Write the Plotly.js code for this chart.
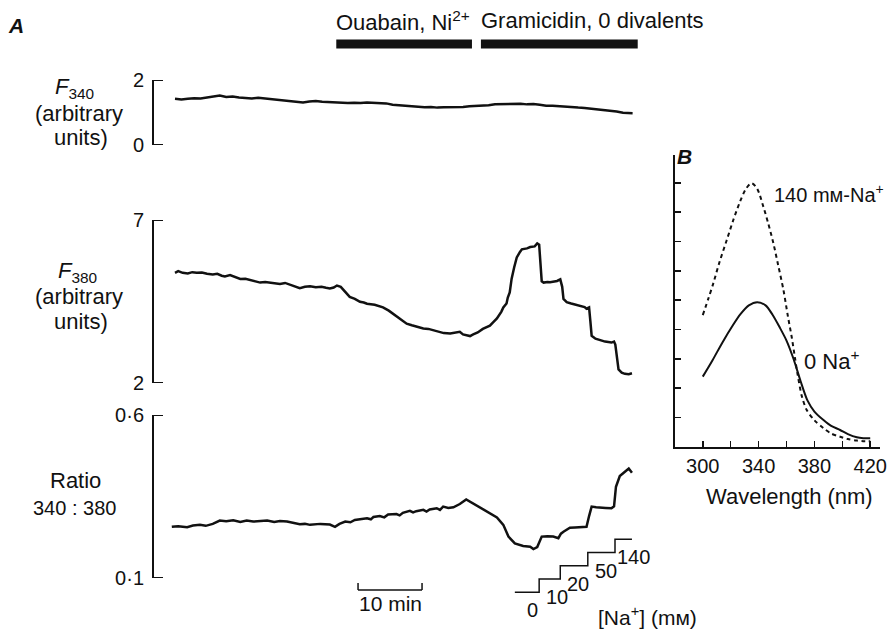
<!DOCTYPE html>
<html>
<head>
<meta charset="utf-8">
<script src="https://cdn.plot.ly/plotly-3.0.1.min.js"></script>
<style>html,body{margin:0;padding:0;background:#fff;}#chart{width:892px;height:629px;}</style>
</head>
<body>
<div id="chart"></div>
<script>
// ---------- Panel A: time course (minutes) ----------
const timeF340 = [0,1,2,3,4,5,6,7,8,9,10,11,12,13,14,15,16,17,18,19,20,21,22,23,24,25,26,27,28,29,30,31,32,33,34,35,36,37,38,39,40,41,42,43,44,45,46,47,48,49,50,51,52,53,54,55,56,57,58,59,60,61,62,63,64,65,66,67,68,69,70,71,71.5];
const f340 = [1.42,1.40,1.42,1.44,1.43,1.46,1.47,1.52,1.48,1.49,1.46,1.45,1.43,1.45,1.43,1.42,1.41,1.38,1.36,1.33,1.31,1.34,1.35,1.33,1.32,1.30,1.31,1.29,1.30,1.29,1.31,1.30,1.31,1.28,1.24,1.22,1.21,1.19,1.18,1.16,1.17,1.15,1.16,1.16,1.18,1.17,1.19,1.20,1.19,1.22,1.25,1.26,1.25,1.26,1.27,1.25,1.26,1.24,1.21,1.21,1.19,1.18,1.16,1.15,1.14,1.12,1.10,1.08,1.06,1.03,0.99,0.99,0.98];

const timeF380 = [0,0.5,1.2,2,2.7,3.4,4.2,5,5.9,6.6,7.3,7.8,8.6,9.4,10.2,11,11.8,12.6,13.3,14.1,15,15.8,16.4,17.2,18,18.8,19.5,20.3,21.1,22,22.9,23.6,24.2,24.8,25.3,25.9,26.6,27.3,28.1,28.9,29.5,30,31.2,32.5,33.4,34.3,35.2,36.2,37,37.8,38.8,39.6,40.3,41.2,42,43,43.8,44.5,45,45.6,46.1,46.6,47.3,48.1,49.2,49.7,50.3,51,51.3,51.8,52,52.3,52.6,53,53.4,53.9,54.2,55,55.5,56.2,56.6,56.9,57.1,57.3,57.6,58.2,58.6,59.2,59.7,60.2,60.5,60.7,61.2,61.9,62.6,63.3,64,64.3,64.7,64.9,65.1,65.7,66.4,67.2,68.2,68.6,68.8,69,69.3,69.8,70.3,70.9,71.4];
const f380 = [5.38,5.43,5.38,5.36,5.40,5.38,5.39,5.35,5.33,5.35,5.29,5.27,5.31,5.24,5.19,5.20,5.15,5.12,5.08,5.10,5.07,5.05,5.04,5.07,5.02,4.97,4.91,4.95,4.97,4.94,4.95,4.92,4.90,4.93,4.99,4.95,4.81,4.64,4.58,4.49,4.47,4.43,4.40,4.32,4.22,4.09,3.94,3.82,3.77,3.72,3.67,3.66,3.62,3.57,3.53,3.52,3.54,3.57,3.49,3.47,3.44,3.49,3.55,3.66,3.76,3.86,3.98,4.19,4.32,4.44,4.62,4.78,5.20,5.55,5.85,6.02,6.10,6.13,6.17,6.19,6.28,6.24,5.70,5.12,5.08,5.10,5.09,5.12,5.13,5.18,4.95,4.58,4.48,4.44,4.40,4.36,4.33,4.28,4.32,3.90,3.45,3.36,3.31,3.27,3.24,3.27,3.18,2.80,2.42,2.32,2.28,2.27,2.30];

const timeRatio = [-0.5,0.5,1.9,2.8,3.9,4.8,5.9,7,8,9.1,10.2,11.2,12.2,13.3,14.4,15.5,16.4,17.5,18.5,19.5,20.3,21.1,22.7,24.2,25,25.7,26.6,27.4,28.1,29,30,30.6,31,32,32.7,33.3,34.6,35.1,35.6,36.7,37.2,37.7,38.8,39.3,39.8,40.9,41.4,41.9,42.7,43.5,44.5,45.5,46.6,47.9,49.2,50.3,51.3,52.1,53.1,54.4,55.5,56,56.6,57,57.3,58.2,59.1,59.9,60.3,60.7,61.7,62.5,63.3,64.3,64.7,65.1,65.8,66.4,67.3,68.2,68.6,68.9,69.5,70.3,70.9,71.4];
const ratio = [0.257,0.259,0.256,0.261,0.263,0.260,0.266,0.276,0.274,0.277,0.272,0.276,0.273,0.275,0.276,0.272,0.275,0.273,0.270,0.265,0.266,0.263,0.266,0.264,0.257,0.266,0.273,0.271,0.278,0.280,0.283,0.280,0.287,0.290,0.286,0.295,0.296,0.292,0.300,0.306,0.301,0.305,0.309,0.304,0.310,0.314,0.309,0.319,0.315,0.317,0.327,0.341,0.329,0.314,0.298,0.286,0.263,0.227,0.206,0.198,0.196,0.189,0.195,0.215,0.227,0.228,0.227,0.222,0.236,0.242,0.254,0.255,0.255,0.257,0.290,0.319,0.317,0.317,0.315,0.314,0.320,0.380,0.413,0.426,0.436,0.423];

// [Na+] steps
const naTimes = [53.1,56.9,60.2,64.5,68.75,71.4];
const naLevel = [0,1,2,3,4,4];
const naLabels = ['0','10','20','50','140'];

// Treatment periods (minutes)
const treatLabels = ['Ouabain, Ni<sup>2+</sup>','Gramicidin, 0 divalents'];
const treatStart = [25.2,47.8];
const treatEnd = [46.4,72.3];

// 10 min scale bar
const scaleStart = 28.6;
const scaleLen = 10;

// Axis ticks of panel A
const f340Ticks = [0,2];
const f380Ticks = [2,7];
const ratioTicks = [0.1,0.6];
const ratioTickText = ['0\u00B71','0\u00B76'];

// ---------- Panel B: excitation spectra ----------
const wlDash = [300,304,307.6,312,317.2,322,326.7,331,335,339,343.4,347,350.6,354,357.8,361,363.7,366,368,371,374.5,380,386.5,392,398.4,404,410.4,415,420];
const na140 = [4.49,5.05,5.58,6.30,7.05,7.75,8.36,8.80,8.99,8.80,8.19,7.60,6.94,6.20,5.35,4.45,3.75,3.05,2.45,1.72,1.25,0.90,0.63,0.45,0.34,0.26,0.21,0.19,0.19];
const wlSolid = [300,307,314,321,327,333,339,345,350,355,360,365,370,375,380,386.5,392,398.4,404,410.4,415,420];
const na0 = [2.39,2.95,3.55,4.10,4.52,4.82,4.93,4.82,4.50,4.08,3.62,3.00,2.25,1.58,1.20,0.91,0.71,0.57,0.43,0.32,0.29,0.29];
const wlLabelTicks = [300,340,380,420];
const wlMinorTicks = [300,320,340,360,380,400,420];
const bTicks = [1,2,3,4,5,6,7,8,9];

const FONT = 'Liberation Sans, Arial, Helvetica, sans-serif';
const ink = '#111';

const traces = [
  {x: timeF340, y: f340, xaxis:'x', yaxis:'y', mode:'lines', line:{color:ink, width:2.5}},
  {x: timeF380, y: f380, xaxis:'x', yaxis:'y2', mode:'lines', line:{color:ink, width:2.5}},
  {x: timeRatio, y: ratio, xaxis:'x', yaxis:'y3', mode:'lines', line:{color:ink, width:2.5}},
  {x: naTimes, y: naLevel, xaxis:'x', yaxis:'y4', mode:'lines', line:{color:ink, width:1.5, shape:'hv'}},
  {x: wlDash, y: na140, xaxis:'x2', yaxis:'y5', mode:'lines', line:{color:ink, width:2, dash:'4px,3.5px', shape:'spline', smoothing:0.8}},
  {x: wlSolid, y: na0, xaxis:'x2', yaxis:'y5', mode:'lines', line:{color:ink, width:2, shape:'spline', smoothing:0.8}}
];

const P = (py) => 1 - py/629;   // pixel row -> paper fraction
const Q = (px) => px/892;

const yA = {
  showline:true, linewidth:2, linecolor:ink, ticks:'', ticklabelstandoff:4,
  showgrid:false, zeroline:false, anchor:'free', position:Q(153),
  tickfont:{family:FONT, size:20, color:ink}, fixedrange:true
};

const annotations = [];
const LBL = 22;
const txt = (text, px, py, opts={}) => annotations.push(Object.assign({
  text, x:Q(px), y:P(py), xref:'paper', yref:'paper', showarrow:false,
  xanchor:'center', yanchor:'middle', font:{family:FONT, size:LBL, color:ink}
}, opts));

txt('<b><i>A</i></b>', 16, 26, {font:{family:FONT, size:21, color:ink}});
txt('<b><i>B</i></b>', 684, 157, {font:{family:FONT, size:21, color:ink}});
txt('<i>F</i><sub>340</sub>', 74, 88);
txt('(arbitrary', 79, 114);
txt('units)', 81, 137);
txt('<i>F</i><sub>380</sub>', 77, 272);
txt('(arbitrary', 79, 296);
txt('units)', 81, 321);
txt('Ratio', 75, 481);
txt('340 : 380', 74, 508, {font:{family:FONT, size:20, color:ink}});
txt('10 min', 390, 603, {font:{family:FONT, size:21, color:ink}});
txt('[Na<sup>+</sup>] (m\u1D0D)', 647, 628, {yanchor:'bottom', yshift:-3, font:{family:FONT, size:21, color:ink}});
txt('Wavelength (nm)', 789, 496);
txt('140 m\u1D0D-Na<sup>+</sup>', 772, 193, {xanchor:'left', font:{family:FONT, size:20, color:ink}});
txt('0 Na<sup>+</sup>', 802, 360, {xanchor:'left'});

treatLabels.forEach((t, i) => annotations.push({
  text:t, x:treatStart[i], y:P(21), xref:'x', yref:'paper', showarrow:false,
  xanchor:'left', yanchor:'middle', xshift:-2, font:{family:FONT, size:LBL, color:ink}
}));

naLabels.forEach((t, i) => annotations.push({
  text:t, x:naTimes[i], y:naLevel[i], xref:'x', yref:'y4', showarrow:false,
  xanchor:'center', yanchor:'middle', xshift:18, yshift:-18, font:{family:FONT, size:20, color:ink}
}));

const shapes = [];
treatStart.forEach((s, i) => shapes.push({
  type:'rect', xref:'x', yref:'paper', x0:s, x1:treatEnd[i], y0:P(48.5), y1:P(39.5),
  fillcolor:ink, line:{width:0}
}));
// bracket end ticks of the three panel-A axes
[['y', f340Ticks], ['y2', f380Ticks], ['y3', ratioTicks]].forEach(([ref, vals]) => vals.forEach(v => shapes.push({
  type:'line', xref:'paper', yref:ref, x0:Q(152), x1:Q(163), y0:v, y1:v, line:{color:ink, width:2}
})));
shapes.push({type:'line', xref:'x', yref:'paper', x0:scaleStart, x1:scaleStart+scaleLen, y0:P(590), y1:P(590), line:{color:ink, width:1.5}});
shapes.push({type:'line', xref:'x', yref:'paper', x0:scaleStart, x1:scaleStart, y0:P(590), y1:P(583), line:{color:ink, width:1.5}});
shapes.push({type:'line', xref:'x', yref:'paper', x0:scaleStart+scaleLen, x1:scaleStart+scaleLen, y0:P(590), y1:P(583), line:{color:ink, width:1.5}});

const layout = {
  width:892, height:629, margin:{l:0, r:0, t:0, b:0},
  paper_bgcolor:'#fff', plot_bgcolor:'rgba(0,0,0,0)', showlegend:false,
  font:{family:FONT, size:20, color:ink},
  xaxis:{domain:[0,1], range:[-27.34375, 112.03125], visible:false, fixedrange:true},
  yaxis:Object.assign({}, yA, {domain:[P(145), P(80)], range:[0,2], tickvals:f340Ticks, ticktext:f340Ticks.map(String)}),
  yaxis2:Object.assign({}, yA, {domain:[P(383), P(220)], range:[2,7], tickvals:f380Ticks, ticktext:f380Ticks.map(String)}),
  yaxis3:Object.assign({}, yA, {domain:[P(578), P(415)], range:[0.1,0.6], tickvals:ratioTicks, ticktext:ratioTickText}),
  yaxis4:{domain:[P(598.9), P(532.7)], range:[-0.5,4.5], visible:false, anchor:'x', fixedrange:true},
  xaxis2:{domain:[Q(675), Q(880)], range:[280.1, 427], anchor:'y5', showline:true, linewidth:2, linecolor:ink,
    ticks:'inside', ticklen:6, tickwidth:1.5, tickcolor:ink, tickvals:wlLabelTicks, ticktext:wlLabelTicks.map(String),
    minor:{ticks:'inside', ticklen:6, tickwidth:1.5, tickcolor:ink, tickvals:wlMinorTicks, showgrid:false},
    showgrid:false, zeroline:false, tickfont:{family:FONT, size:20, color:ink}, fixedrange:true},
  yaxis5:{domain:[P(446.7), P(155)], range:[0, 9.95], anchor:'x2', showline:true, linewidth:2, linecolor:ink,
    ticks:'', tickvals:[], showticklabels:false,
    minor:{ticks:'inside', ticklen:6, tickwidth:1.5, tickcolor:ink, tickvals:bTicks, showgrid:false},
    showgrid:false, zeroline:false, fixedrange:true},
  annotations, shapes
};

Plotly.newPlot('chart', traces, layout, {displayModeBar:false, staticPlot:true});
</script>
</body>
</html>
